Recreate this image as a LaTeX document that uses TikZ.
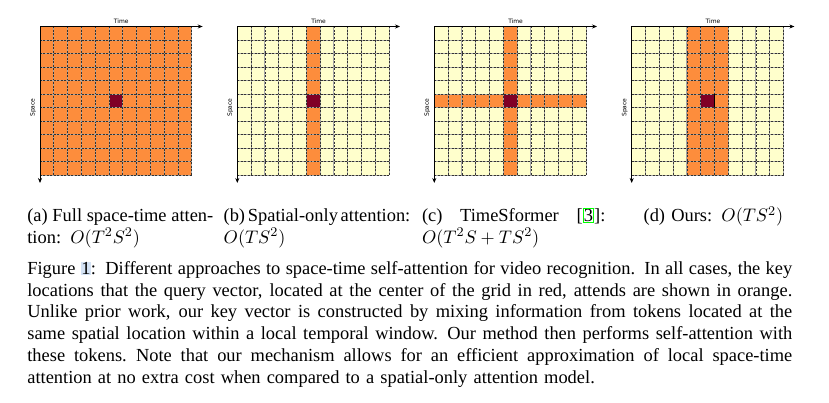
\documentclass[tikz,border=0pt]{standalone}
\usepackage{fontspec}
\setmainfont{Liberation Serif}
\newfontfamily\plotfont{DejaVu Sans}
\usetikzlibrary{arrows.meta}
\definecolor{cellyellow}{HTML}{FFFFCC}
\definecolor{cellorange}{HTML}{FD8D3C}
\definecolor{queryred}{HTML}{800026}
\definecolor{linkgreen}{HTML}{00FF00}
\definecolor{linkblue}{HTML}{D5E3F5}

% one panel: grid lines, the two axes and their labels
\newcommand{\panelgrid}{%
  \foreach \i in {0,...,11}{
    \draw[gridline] (\i*13.8,0) -- (\i*13.8,148.5);
    \draw[gridline] (0,\i*13.5) -- (151.8,\i*13.5);
    \draw[gridover] (\i*13.8,0) -- (\i*13.8,148.5);
    \draw[gridover] (0,\i*13.5) -- (151.8,\i*13.5);
  }
  \coordinate (o) at (0,0);
  \coordinate (tend) at (162.7,0);
  \coordinate (send) at (0,156.5);
  \draw[axis] (o) -- (tend);
  \draw[axis] (o) -- (send);
  \node[axislabel] (tlab) at (81.3,-5.5) {Time};
  \node[axislabel,rotate=90] (slab) at (-7,81) {Space};
}
% a justified line filling the node width
\newcommand{\jline}[1]{\leavevmode\hbox to \hsize{\spaceskip=0.25em plus 1fil minus 0.1em #1}}

\begin{document}
\begin{tikzpicture}[x=0.6024pt,y=-0.6024pt,
    gridline/.style={line width=0.5pt,black!35},
    gridover/.style={line width=0.4pt,black!80,dash pattern=on 1.2pt off 0.9pt},
    axis/.style={line width=0.45pt,-{Stealth[length=3pt,width=2.4pt]}},
    axislabel/.style={font=\plotfont\fontsize{3.6}{4}\selectfont,inner sep=0pt},
    subcap/.style={font=\fontsize{11.1}{13.1}\selectfont,align=left,
      text width=112pt,inner sep=0pt,anchor=base west}]
  \useasboundingbox (0,0) rectangle (829,403);

  % (a) full space-time
  \begin{scope}[shift={(40,26.5)}]
    \fill[cellorange] (0,0) rectangle (151.8,148.5);
    \fill[queryred] (69,67.5) rectangle (82.8,81);
    \panelgrid
  \end{scope}

  % (b) spatial only
  \begin{scope}[shift={(237.3,26.5)}]
    \fill[cellyellow] (0,0) rectangle (151.8,148.5);
    \fill[cellorange] (69,0) rectangle (82.8,148.5);
    \fill[queryred] (69,67.5) rectangle (82.8,81);
    \panelgrid
  \end{scope}

  % (c) TimeSformer
  \begin{scope}[shift={(434.3,26.5)}]
    \fill[cellyellow] (0,0) rectangle (151.8,148.5);
    \fill[cellorange] (69,0) rectangle (82.8,148.5);
    \fill[cellorange] (0,67.5) rectangle (151.8,81);
    \fill[queryred] (69,67.5) rectangle (82.8,81);
    \panelgrid
  \end{scope}

  % (d) ours
  \begin{scope}[shift={(631.7,26.5)}]
    \fill[cellyellow] (0,0) rectangle (151.8,148.5);
    \fill[cellorange] (55.2,0) rectangle (96.6,148.5);
    \fill[queryred] (69,67.5) rectangle (82.8,81);
    \panelgrid
    \draw[line width=0.6pt] (82.8,67.5) -- (82.8,81);
  \end{scope}

  % sub captions
  \node[subcap] (capa) at (27,221.7) {\jline{(a) Full space-time atten-}\\ tion: $O(T^2S^2)$};
  \node[subcap] (capb) at (223.3,221.7) {\jline{(b) Spatial-only attention:}\\ $O(TS^2)$};
  \node[subcap,text width=110.5pt] (capc) at (421.7,221.7) {\jline{(c) TimeSformer
    [{\setlength{\fboxsep}{0.2pt}\setlength{\fboxrule}{0.5pt}\fcolorbox{linkgreen}{white}{3}}]:}\\ $O(T^2S+TS^2)$};
  \node[subcap,text width=90pt] (capd) at (643.3,221.7) {(d) Ours: $O(TS^2)$};

  % figure caption
  \node[subcap,text width=460.8pt] (figcap) at (27,274.5) {\jline{Figure
    {\setlength{\fboxsep}{0.3pt}\colorbox{linkblue}{1}}: Different approaches to space-time self-attention for video recognition. In all cases, the key}\\
    \jline{locations that the query vector, located at the center of the grid in red, attends are shown in orange.}\\
    \jline{Unlike prior work, our key vector is constructed by mixing information from tokens located at the}\\
    \jline{same spatial location within a local temporal window. Our method then performs self-attention with}\\
    \jline{these tokens. Note that our mechanism allows for an efficient approximation of local space-time}\\
    attention at no extra cost when compared to a spatial-only attention model.};
\end{tikzpicture}
\end{document}
